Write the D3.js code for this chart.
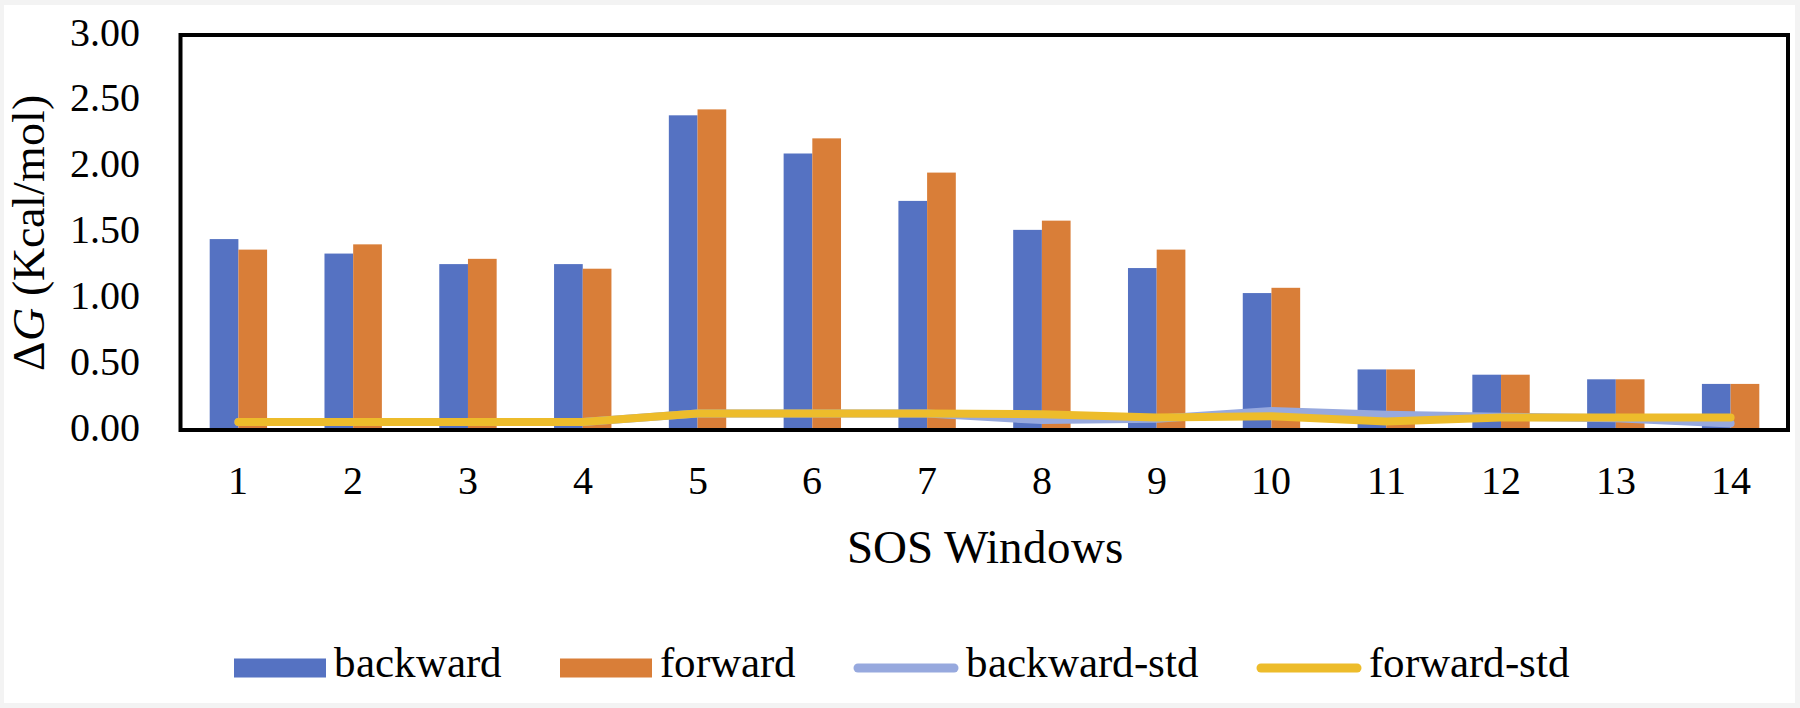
<!DOCTYPE html>
<html>
<head>
<meta charset="utf-8">
<script src="https://cdn.jsdelivr.net/npm/d3@7"></script>
<style>
  @font-face {
    font-family: "ChartSerif";
    src: local("Liberation Serif"), local("LiberationSerif"), local("Liberation Serif Regular"), local("Tinos"), local("Times New Roman");
    font-style: normal;
    font-weight: 400;
  }
  @font-face {
    font-family: "ChartSerif";
    src: local("Liberation Serif Italic"), local("LiberationSerif-Italic"), local("Tinos Italic"), local("Times New Roman Italic");
    font-style: italic;
    font-weight: 400;
  }
  html, body { margin: 0; padding: 0; background: #ffffff; }
  svg { display: block; }
  svg text { font-family: "ChartSerif", "Liberation Serif", serif; }
</style>
</head>
<body>
<svg id="chart" width="1800" height="708"></svg>
<script>
// ---- data ----
const categories = ["1","2","3","4","5","6","7","8","9","10","11","12","13","14"];
const backward    = [1.45, 1.34, 1.26, 1.26, 2.39, 2.10, 1.74, 1.52, 1.23, 1.04, 0.46, 0.42, 0.385, 0.35];
const forward     = [1.37, 1.41, 1.30, 1.225, 2.435, 2.215, 1.955, 1.59, 1.37, 1.08, 0.46, 0.42, 0.385, 0.35];
const backwardStd = [0.06, 0.06, 0.06, 0.06, 0.125, 0.125, 0.125, 0.075, 0.085, 0.145, 0.115, 0.10, 0.09, 0.05];
const forwardStd  = [0.06, 0.06, 0.06, 0.06, 0.125, 0.125, 0.125, 0.12, 0.095, 0.105, 0.065, 0.095, 0.095, 0.095];
const yTicks = [0, 0.5, 1.0, 1.5, 2.0, 2.5, 3.0];
const seriesNames = ["backward", "forward", "backward-std", "forward-std"];
const xTitle = "SOS Windows";

const FONT = '"ChartSerif", "Liberation Serif", serif';

// ---- styles ----
const colors = {
  "backward": "#5572C2",
  "forward": "#D97E38",
  "backward-std": "#97A9DE",
  "forward-std": "#EDBC2B"
};

const svg = d3.select("#chart");
const W = 1800, H = 708;

svg.append("rect").attr("x", 0).attr("y", 0).attr("width", W).attr("height", H).attr("fill", "#f3f3f3");
svg.append("rect").attr("x", 4).attr("y", 5).attr("width", 1791).attr("height", 698).attr("fill", "#ffffff");

const plot = { left: 181, right: 1788, top: 35, bottom: 430 };

const x = d3.scaleBand().domain(categories).range([plot.left, plot.right]).paddingInner(0).paddingOuter(0);
const bw = x.bandwidth();
const xs = d3.scaleBand().domain(["backward", "forward"]).range([bw * 0.25, bw * 0.75]).padding(0);
const y = d3.scaleLinear().domain([0, 3]).range([plot.bottom, plot.top]);

const barData = categories.map((c, i) => ({ c, vals: [
  { key: "backward", v: backward[i] },
  { key: "forward", v: forward[i] }
]}));

const groups = svg.append("g").selectAll("g").data(barData).join("g")
  .attr("transform", d => `translate(${x(d.c)},0)`);
groups.selectAll("rect").data(d => d.vals).join("rect")
  .attr("x", d => xs(d.key))
  .attr("width", xs.bandwidth())
  .attr("y", d => y(d.v))
  .attr("height", d => y(0) - y(d.v))
  .attr("fill", d => colors[d.key]);

const line = d3.line()
  .x((d, i) => x(categories[i]) + bw / 2)
  .y(d => y(d));

svg.append("path").datum(backwardStd)
  .attr("d", line).attr("fill", "none")
  .attr("stroke", colors["backward-std"]).attr("stroke-width", 8)
  .attr("stroke-linecap", "round").attr("stroke-linejoin", "round");
svg.append("path").datum(forwardStd)
  .attr("d", line).attr("fill", "none")
  .attr("stroke", colors["forward-std"]).attr("stroke-width", 8)
  .attr("stroke-linecap", "round").attr("stroke-linejoin", "round");

svg.append("rect")
  .attr("x", plot.left - 0.5).attr("y", plot.top)
  .attr("width", plot.right - plot.left + 0.5).attr("height", plot.bottom - plot.top)
  .attr("fill", "none").attr("stroke", "#000").attr("stroke-width", 4);

const yAxis = svg.append("g")
  .attr("transform", `translate(${plot.left},0)`)
  .call(d3.axisLeft(y).tickValues(yTicks).tickFormat(d3.format(".2f")).tickSize(0).tickPadding(41));
yAxis.select(".domain").remove();
yAxis.attr("font-family", FONT).attr("font-size", 40);
yAxis.selectAll("text").attr("dy", "0.25em").attr("fill", "#000");

const xAxis = svg.append("g")
  .attr("transform", `translate(0,${plot.bottom})`)
  .call(d3.axisBottom(x).tickSize(0).tickPadding(36));
xAxis.select(".domain").remove();
xAxis.attr("font-family", FONT).attr("font-size", 40);
xAxis.selectAll("text").attr("fill", "#000");

svg.append("text")
  .attr("x", (plot.left + plot.right) / 2)
  .attr("y", 563)
  .attr("text-anchor", "middle")
  .attr("font-family", FONT)
  .attr("font-size", 47)
  .text(xTitle);

const yt = svg.append("text")
  .attr("transform", `translate(44,${(plot.top + plot.bottom) / 2}) rotate(-90)`)
  .attr("text-anchor", "middle")
  .attr("font-family", FONT)
  .attr("font-size", 46);
yt.append("tspan").text("Δ");
yt.append("tspan").attr("font-style", "italic").text("G");
yt.append("tspan").text(" (Kcal/mol)");

const legend = svg.append("g");
let lx = 234;
const ly = 668;
seriesNames.forEach((name, i) => {
  const g = legend.append("g");
  if (i < 2) {
    g.append("rect").attr("x", lx).attr("y", ly - 9.5).attr("width", 92).attr("height", 19)
      .attr("fill", colors[name]);
  } else {
    g.append("line").attr("x1", lx + 4).attr("x2", lx + 100).attr("y1", ly).attr("y2", ly)
      .attr("stroke", colors[name]).attr("stroke-width", 9).attr("stroke-linecap", "round");
  }
  const sw = i < 2 ? 92 : 104;
  g.append("text").attr("class", "legend-label")
    .attr("data-sw", sw).attr("data-x", lx)
    .attr("x", lx + sw + 8).attr("y", 677)
    .attr("font-family", FONT)
    .attr("font-size", 43).text(name);
  lx = lx + sw + 8 + 43 * [3.9, 3.2, 5.35, 4.65][i] + 58;
});

// once fonts are ready, lay the legend out from measured widths
function layoutLegend() {
  let cx = 234;
  legend.selectAll("g").each(function (d, i) {
    const g = d3.select(this);
    const sw = i < 2 ? 92 : 104;
    if (i < 2) g.select("rect").attr("x", cx);
    else g.select("line").attr("x1", cx + 4).attr("x2", cx + 100);
    const t = g.select("text").attr("x", cx + sw + 8);
    cx = cx + sw + 8 + t.node().getComputedTextLength() + 58;
  });
}
layoutLegend();
if (document.fonts && document.fonts.load) {
  Promise.all([
    document.fonts.load('40px "ChartSerif"'),
    document.fonts.load('italic 46px "ChartSerif"')
  ]).then(layoutLegend).catch(() => {});
}
</script>
</body>
</html>
